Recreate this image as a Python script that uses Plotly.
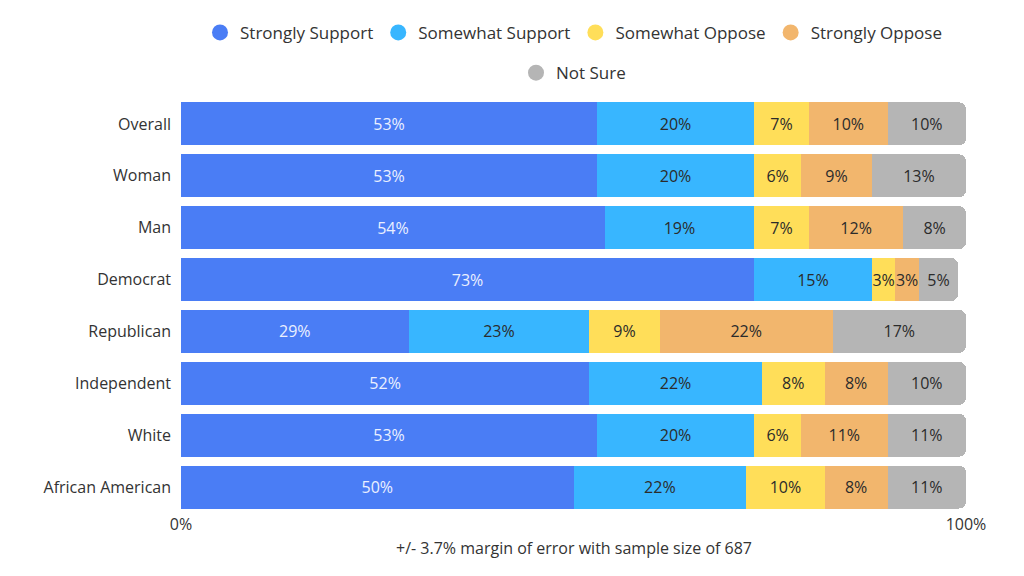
import plotly.graph_objects as go

groups = ["Overall", "Woman", "Man", "Democrat", "Republican", "Independent", "White", "African American"]
series = ["Strongly Support", "Somewhat Support", "Somewhat Oppose", "Strongly Oppose", "Not Sure"]
colors = ["#4A7DF5", "#38B6FF", "#FFDE59", "#F2B66D", "#B5B5B5"]
text_colors = ["#EAF0FF", "#2B2B2B", "#2B2B2B", "#2B2B2B", "#2B2B2B"]

# bar lengths (as drawn)
strongly_support = [53, 53, 54, 73, 29, 52, 53, 50]
somewhat_support = [20, 20, 19, 15, 23, 22, 20, 22]
somewhat_oppose = [7, 6, 7, 3, 9, 8, 6, 10]
strongly_oppose = [10, 9, 12, 3, 22, 8, 11, 8]
not_sure = [10, 12, 8, 5, 17, 10, 10, 10]

# printed labels
strongly_support_lbl = [53, 53, 54, 73, 29, 52, 53, 50]
somewhat_support_lbl = [20, 20, 19, 15, 23, 22, 20, 22]
somewhat_oppose_lbl = [7, 6, 7, 3, 9, 8, 6, 10]
strongly_oppose_lbl = [10, 9, 12, 3, 22, 8, 11, 8]
not_sure_lbl = [10, 13, 8, 5, 17, 10, 11, 11]

x_ticks = [0, 100]
x_tick_text = ["0%", "100%"]
note = "+/- 3.7% margin of error with sample size of 687"

values = [strongly_support, somewhat_support, somewhat_oppose, strongly_oppose, not_sure]
labels = [strongly_support_lbl, somewhat_support_lbl, somewhat_oppose_lbl, strongly_oppose_lbl, not_sure_lbl]

FONT = "Open Sans"
fig = go.Figure()
for name, vals, lbls, c, tc in zip(series, values, labels, colors, text_colors):
    fig.add_trace(go.Bar(
        y=groups, x=vals, orientation="h", name=name,
        marker=dict(color=c, line=dict(width=0)),
        text=[f"{v}%" for v in lbls], textposition="inside",
        insidetextanchor="middle", textangle=0, constraintext="none",
        textfont=dict(family=FONT, size=16, color=tc),
        showlegend=False, hoverinfo="skip",
    ))

for i, (name, c) in enumerate(zip(series, colors)):
    fig.add_trace(go.Scatter(
        x=[None], y=[None], mode="markers", name=name,
        marker=dict(symbol="circle", size=16, color=c),
        showlegend=True, legend="legend" if i < 4 else "legend2",
    ))

fig.update_layout(
    width=1024, height=576,
    barmode="stack", bargap=0.17, barcornerradius=7,
    paper_bgcolor="white", plot_bgcolor="white",
    margin=dict(l=181, r=58, t=98, b=63),
    font=dict(family=FONT, size=16, color="#333333"),
    xaxis=dict(range=[0, 100], tickvals=x_ticks, ticktext=x_tick_text,
               showgrid=False, zeroline=False, showline=False, ticks="",
               tickfont=dict(size=16, color="#333333")),
    yaxis=dict(autorange="reversed", showgrid=False, zeroline=False, showline=False,
               ticks="", ticklabelstandoff=9, tickfont=dict(size=16, color="#333333")),
    legend=dict(orientation="h", traceorder="normal", x=0.5, xanchor="center",
                y=1.157, yanchor="middle",
                font=dict(size=17, color="#333333"), itemclick=False),
    legend2=dict(orientation="h", traceorder="normal", x=0.5, xanchor="center",
                 y=1.06, yanchor="middle",
                 font=dict(size=17, color="#333333"), itemclick=False),
    annotations=[dict(text=note, xref="paper", yref="paper", x=0.5, y=-0.085,
                      yanchor="middle", showarrow=False,
                      font=dict(size=16, color="#333333"))],
)

fig.write_html("out.html")
